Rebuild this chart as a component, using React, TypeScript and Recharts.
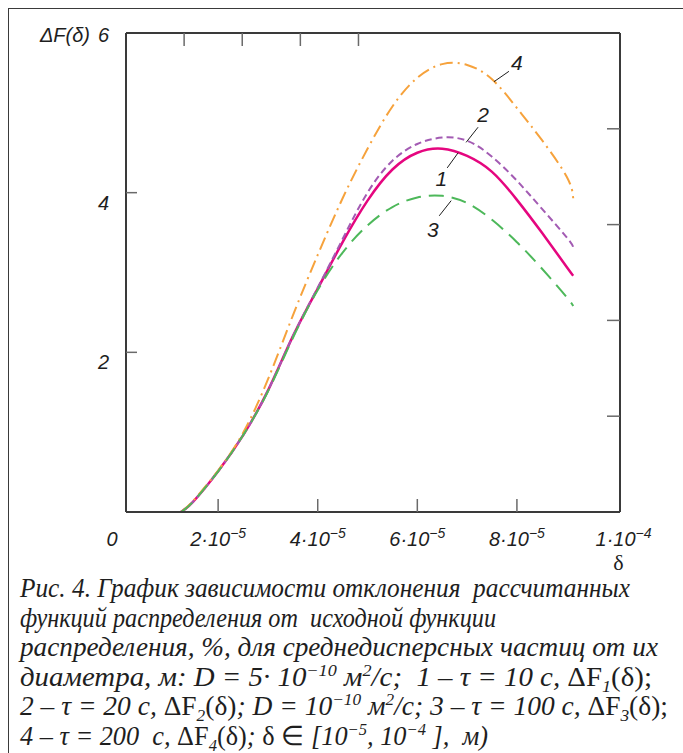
import React from "react";
import { LineChart, Line, XAxis, YAxis, ReferenceLine, ReferenceDot } from "recharts";

// δ in units of 1e-5 m
const DELTA = [1.25, 1.5, 2, 2.5, 3, 3.5, 4, 4.5, 5, 5.5, 6, 6.5, 7, 7.5, 8, 8.5, 9, 9.13];
const DF1 = [0, 0.13, 0.51, 0.96, 1.52, 2.2, 2.8, 3.38, 3.9, 4.29, 4.5, 4.55, 4.46, 4.26, 3.91, 3.5, 3.07, 2.96];
const DF2 = [0, 0.13, 0.51, 0.96, 1.52, 2.2, 2.81, 3.42, 4.0, 4.4, 4.61, 4.69, 4.65, 4.45, 4.15, 3.8, 3.44, 3.32];
const DF3 = [0, 0.13, 0.51, 0.96, 1.51, 2.18, 2.78, 3.25, 3.59, 3.82, 3.94, 3.96, 3.87, 3.66, 3.38, 3.05, 2.69, 2.58];
const DF4 = [0, 0.14, 0.52, 0.99, 1.66, 2.46, 3.22, 3.93, 4.55, 5.08, 5.44, 5.61, 5.6, 5.42, 5.06, 4.66, 4.2, 3.93];

const X_TICKS = [2, 4, 6, 8, 10];
const X_MANTISSA = ["2", "4", "6", "8", "1"];
const X_EXP = ["−5", "−5", "−5", "−5", "−4"];
const Y_TICKS = [0, 2, 4, 6];
const Y_RIGHT_TICKS = [1.2, 2.4, 3.6, 4.8];

// curve number, label position, leader line ends (data units)
const CURVE_LABELS = ["4", "2", "1", "3"];
const LABEL_X = [8.0, 7.32, 6.48, 6.31];
const LABEL_Y = [5.62, 4.97, 4.17, 3.53];
const LEADER_FROM = [[7.54, 5.39], [6.98, 4.63], [6.6, 4.31], [6.44, 3.71]];
const LEADER_TO = [[7.84, 5.52], [7.22, 4.82], [6.82, 4.5], [6.68, 3.9]];

type Seg = [string, "i" | "u" | "sup" | "sub"];
const CAPTION: Seg[][] = [
  [["Рис. 4. График зависимости отклонения  рассчитанных", "i"]],
  [["функций распределения от  исходной функции", "i"]],
  [["распределения, %, для среднедисперсных частиц от их", "i"]],
  [
    ["диаметра, м: D = 5· 10", "i"], ["−10", "sup"], [" м", "i"], ["2", "sup"],
    ["/с;  1 – τ = 10 с, ", "i"], ["ΔF", "u"], ["1", "sub"], ["(δ);", "u"],
  ],
  [
    ["2 – τ = 20 с, ", "i"], ["ΔF", "u"], ["2", "sub"], ["(δ)", "u"], ["; D = 10", "i"], ["−10", "sup"],
    [" м", "i"], ["2", "sup"], ["/с; 3 – τ = 100 с, ", "i"], ["ΔF", "u"], ["3", "sub"], ["(δ);", "u"],
  ],
  [
    ["4 – τ = 200  с, ", "i"], ["ΔF", "u"], ["4", "sub"], ["(δ)", "u"], ["; ", "i"], ["δ ∈", "u"],
    [" [10", "i"], ["−5", "sup"], [", 10", "i"], ["−4", "sup"], [" ],  м)", "i"],
  ],
];
const CAPTION_WIDTHS = [610, 476, 638, 632, 648, 468];

const data = DELTA.map((d, i) => ({ d, f1: DF1[i], f2: DF2[i], f3: DF3[i], f4: DF4[i] }));

const AXIS = "#3a3a3a";
const TICK = "#6a6a6a";
const INK = "#1e1e1e";
const SANS = '"Liberation Sans", Arial, sans-serif';
const SERIF = '"Liberation Serif", "Times New Roman", serif';

function BottomTick({ x, y, payload }: any) {
  const i = X_TICKS.indexOf(payload.value);
  const last = payload.value === 10;
  return (
    <g>
      {!last && <line x1={x} y1={y} x2={x} y2={y - 13} stroke={TICK} strokeWidth={1.5} />}
      <text x={last ? x + 7 : x} y={y + 34} textAnchor="middle" fontFamily={SANS} fontStyle="italic" fontSize={20} fill={INK}>
        {X_MANTISSA[i]}·10
        <tspan dy={-8} fontSize={14}>{X_EXP[i]}</tspan>
      </text>
      {last && (
        <text x={x + 2} y={y + 58} textAnchor="middle" fontFamily={SERIF} fontSize={22} fill={INK}>
          δ
        </text>
      )}
    </g>
  );
}

function TopTick({ x, y }: any) {
  return <line x1={x} y1={y} x2={x} y2={y + 13} stroke={TICK} strokeWidth={1.5} />;
}

function LeftTick({ x, y, payload }: any) {
  const v = payload.value;
  const txt = { fontFamily: SANS, fontStyle: "italic", fontSize: 20, fill: INK } as const;
  if (v === 0) {
    return <text x={x - 14} y={y + 34} textAnchor="middle" {...txt}>0</text>;
  }
  return (
    <g>
      {v !== 6 && <line x1={x} y1={y} x2={x + 11} y2={y} stroke={TICK} strokeWidth={1.5} />}
      <text x={x - 17} y={v === 6 ? y + 9 : y + 17} textAnchor="end" {...txt}>{v}</text>
      {v === 6 && (
        <text x={x - 36} y={y + 9} textAnchor="end" {...txt}>ΔF(δ)</text>
      )}
    </g>
  );
}

function RightTick({ x, y }: any) {
  return <line x1={x - 13} y1={y} x2={x} y2={y} stroke={TICK} strokeWidth={1.5} />;
}

function CaptionLine({ segs, y, width }: { segs: Seg[]; y: number; width: number }) {
  let shift = 0;
  return (
    <text x={20} y={y} textLength={width} lengthAdjust="spacingAndGlyphs" fontFamily={SERIF} fontSize={27} fill={INK} style={{ whiteSpace: "pre" }}>
      {segs.map(([t, k], i) => {
        const target = k === "sup" ? -10 : k === "sub" ? 6 : 0;
        const dy = target - shift;
        shift = target;
        return (
          <tspan
            key={i}
            dy={dy}
            fontSize={k === "sup" || k === "sub" ? 17 : 27}
            fontStyle={k === "u" ? "normal" : "italic"}
          >
            {t}
          </tspan>
        );
      })}
    </text>
  );
}

export default function App() {
  return (
    <div style={{ position: "fixed", left: 0, top: 0, width: 683, height: 753, overflow: "hidden", background: "#fff" }}>
      <div
        style={{
          position: "absolute",
          left: 8,
          top: 8,
          width: 700,
          height: 760,
          borderTop: `1.5px solid ${AXIS}`,
          borderLeft: `1.5px solid ${AXIS}`,
        }}
      />
      <div style={{ position: "absolute", left: 0, top: 0 }}>
        <LineChart width={683} height={580} data={data} margin={{ top: 23, right: 53, left: 86, bottom: 28 }}>
          <XAxis
            dataKey="d"
            type="number"
            domain={[0.15, 10.07]}
            allowDataOverflow
            ticks={X_TICKS}
            interval={0}
            tickSize={0}
            tickMargin={0}
            height={40}
            axisLine={{ stroke: AXIS, strokeWidth: 2 }}
            tickLine={false}
            tick={(p: any) => <BottomTick {...p} />}
          />
          <XAxis
            xAxisId="t"
            orientation="top"
            type="number"
            domain={[0.15, 10.07]}
            allowDataOverflow
            ticks={[2, 4, 6, 8]}
            interval={0}
            tickSize={0}
            tickMargin={0}
            height={10}
            axisLine={{ stroke: AXIS, strokeWidth: 2 }}
            tickLine={false}
            tick={(p: any) => <TopTick {...p} />}
          />
          <YAxis
            type="number"
            domain={[0, 6]}
            allowDataOverflow
            ticks={Y_TICKS}
            interval={0}
            tickSize={0}
            tickMargin={0}
            width={40}
            axisLine={{ stroke: AXIS, strokeWidth: 2 }}
            tickLine={false}
            tick={(p: any) => <LeftTick {...p} />}
          />
          <YAxis
            yAxisId="r"
            orientation="right"
            type="number"
            domain={[0, 6]}
            allowDataOverflow
            ticks={Y_RIGHT_TICKS}
            interval={0}
            tickSize={0}
            tickMargin={0}
            width={10}
            axisLine={{ stroke: AXIS, strokeWidth: 2 }}
            tickLine={false}
            tick={(p: any) => <RightTick {...p} />}
          />
          <Line dataKey="f1" type="natural" stroke="#e5067f" strokeWidth={2.5} dot={false} isAnimationActive={false} />
          <Line dataKey="f2" type="natural" stroke="#a35bb3" strokeWidth={2} strokeDasharray="7 4" dot={false} isAnimationActive={false} />
          <Line dataKey="f4" type="natural" stroke="#f6a23c" strokeWidth={2} strokeDasharray="13 5 2 5" dot={false} isAnimationActive={false} />
          <Line dataKey="f3" type="natural" stroke="#4db85a" strokeWidth={2} strokeDasharray="15 8" dot={false} isAnimationActive={false} />
          {CURVE_LABELS.map((c, i) => (
            <ReferenceLine
              key={`l${c}`}
              segment={[
                { x: LEADER_FROM[i][0], y: LEADER_FROM[i][1] },
                { x: LEADER_TO[i][0], y: LEADER_TO[i][1] },
              ]}
              stroke={INK}
              strokeWidth={1}
            />
          ))}
          {CURVE_LABELS.map((c, i) => (
            <ReferenceDot
              key={`d${c}`}
              x={LABEL_X[i]}
              y={LABEL_Y[i]}
              r={0}
              shape={(p: any) => (
                <text x={p.cx} y={p.cy + 7} textAnchor="middle" fontFamily={SANS} fontStyle="italic" fontSize={21} fill={INK}>
                  {c}
                </text>
              )}
            />
          ))}
        </LineChart>
      </div>
      <svg width={683} height={753} style={{ position: "absolute", left: 0, top: 0 }}>
        {CAPTION.map((segs, i) => (
          <CaptionLine key={i} segs={segs} y={597 + i * 29.6} width={CAPTION_WIDTHS[i]} />
        ))}
      </svg>
    </div>
  );
}
